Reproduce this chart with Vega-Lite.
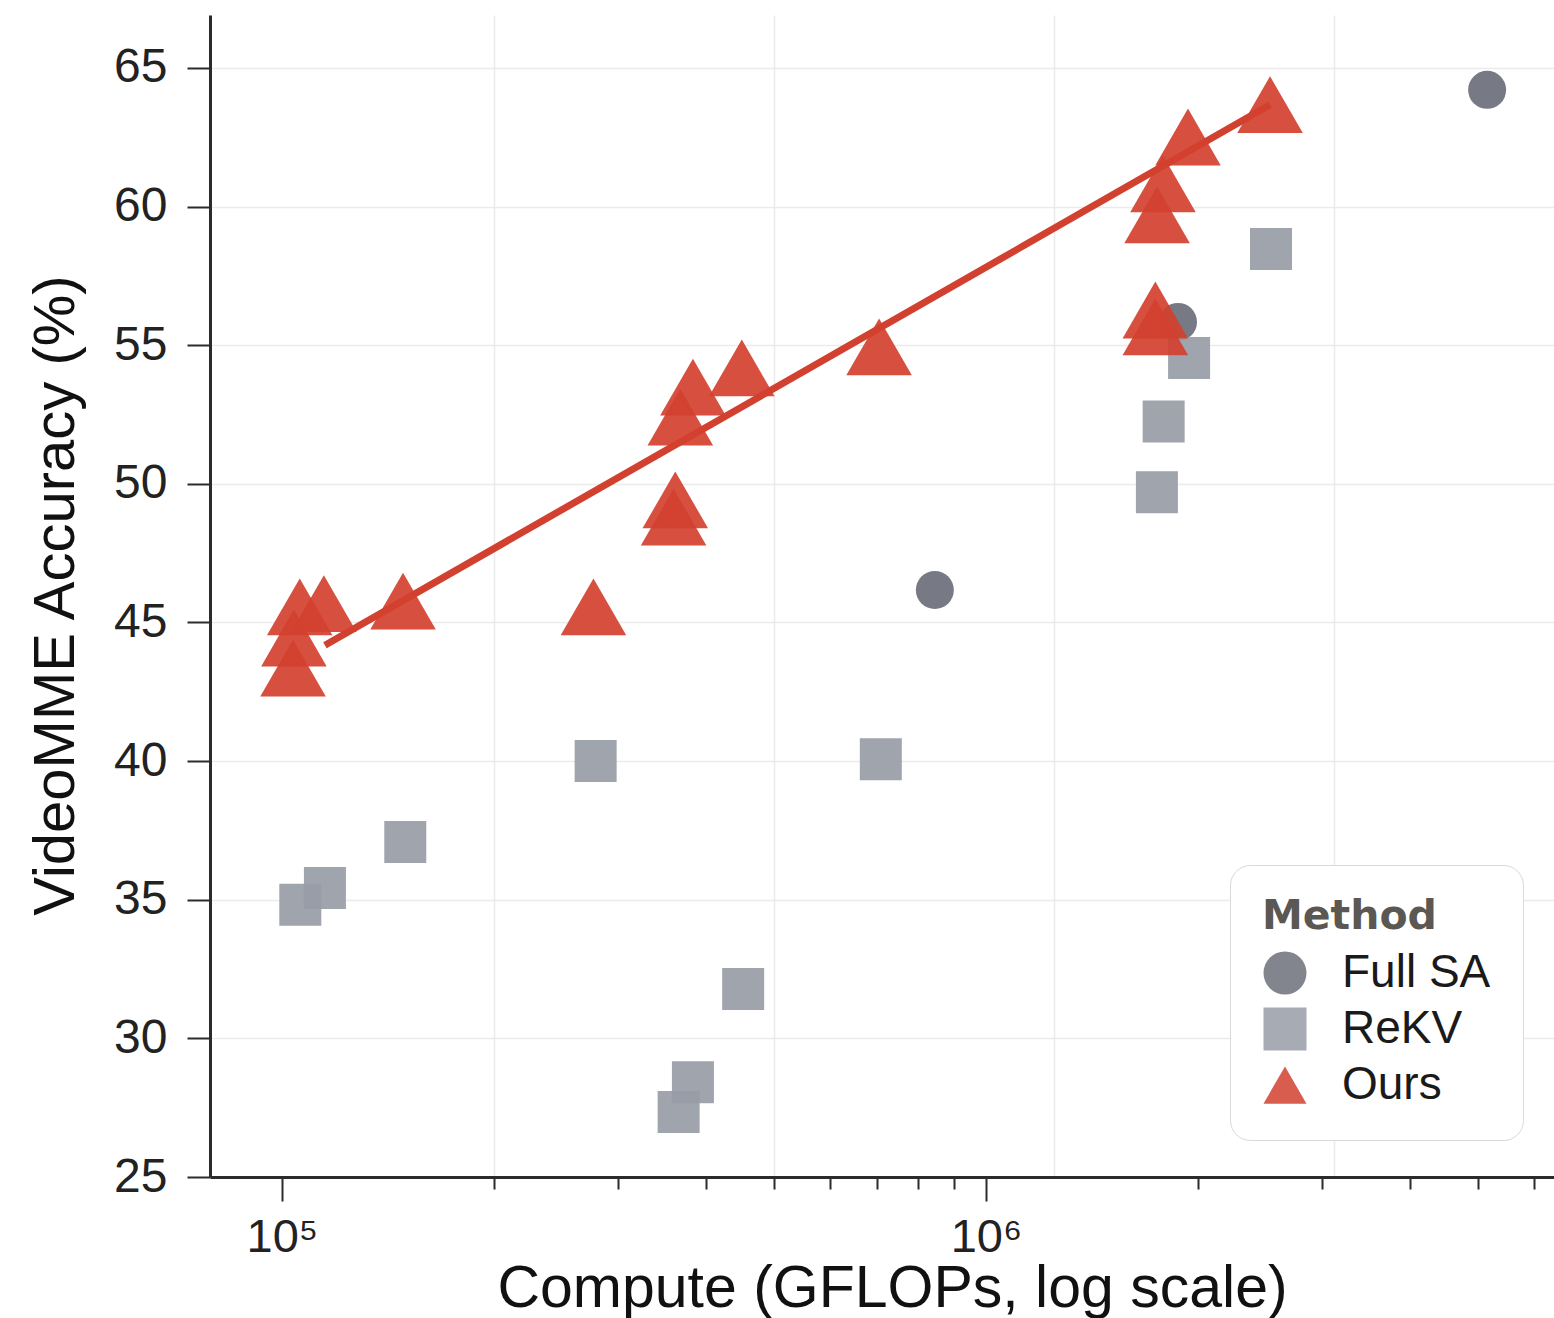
{
  "$schema": "https://vega.github.io/schema/vega-lite/v6.json",
  "width": 1344,
  "height": 1162,
  "autosize": {"type": "none"},
  "padding": {"left": 210, "top": 15, "right": 0, "bottom": 141},
  "background": "white",
  "config": {"view": {"stroke": null}, "font": "Liberation Sans"},
  "resolve": {"axis": {"x": "independent"}},
  "encoding": {
    "y": {
      "field": "accuracy",
      "type": "quantitative",
      "scale": {"domain": [25, 66.91], "nice": false, "zero": false},
      "axis": {
        "title": "VideoMME Accuracy (%)",
        "values": [25, 30, 35, 40, 45, 50, 55, 60, 65],
        "labelFontSize": 48,
        "labelColor": "#222222",
        "labelPadding": 20,
        "tickSize": 23,
        "tickWidth": 2,
        "tickColor": "#2b2b2b",
        "domainColor": "#2b2b2b",
        "domainWidth": 3,
        "grid": true,
        "gridColor": "#ebebeb",
        "gridWidth": 1.5,
        "titleFontSize": 58,
        "titleFontWeight": "normal",
        "titleColor": "#111111",
        "titleX": -137,
        "titleY": 580,
        "titleBaseline": "alphabetic",
        "titleAlign": "center",
        "titleAngle": -90
      }
    }
  },
  "layer": [
    {
      "data": {"values": [
        {"gflops": 115100, "accuracy": 44.18},
        {"gflops": 2532000, "accuracy": 63.67}
      ]},
      "mark": {"type": "line", "color": "#d2402f", "strokeWidth": 7, "strokeCap": "butt"},
      "encoding": {
        "x": {
          "field": "gflops",
          "type": "quantitative",
          "scale": {"type": "log", "domain": [79040, 6409000], "nice": false},
          "axis": {
            "orient": "bottom",
            "title": null,
            "values": [200000, 300000, 400000, 500000, 600000, 700000, 800000, 900000, 1250000, 2000000, 3000000, 3125000, 4000000, 5000000, 6000000],
            "labels": false,
            "domain": false,
            "tickSize": 12,
            "tickOpacity": {"condition": {"test": "datum.value == 1250000 || datum.value == 3125000", "value": 0}, "value": 1},
            "tickColor": "#2b2b2b",
            "tickWidth": 2,
            "grid": true,
            "gridOpacity": {"condition": {"test": "datum.value == 200000 || datum.value == 500000 || datum.value == 1250000 || datum.value == 3125000", "value": 1}, "value": 0},
            "gridColor": "#ebebeb",
            "gridWidth": 1.5
          }
        }
      }
    },
    {
      "data": {"values": [
        {"method": "Full SA", "gflops": 846000, "accuracy": 46.17},
        {"method": "Full SA", "gflops": 1874000, "accuracy": 55.84},
        {"method": "Full SA", "gflops": 5150000, "accuracy": 64.21},
        {"method": "ReKV", "gflops": 106200, "accuracy": 34.82},
        {"method": "ReKV", "gflops": 115100, "accuracy": 35.42},
        {"method": "ReKV", "gflops": 149700, "accuracy": 37.08},
        {"method": "ReKV", "gflops": 279000, "accuracy": 40.0},
        {"method": "ReKV", "gflops": 366000, "accuracy": 27.34},
        {"method": "ReKV", "gflops": 383500, "accuracy": 28.42},
        {"method": "ReKV", "gflops": 452000, "accuracy": 31.78},
        {"method": "ReKV", "gflops": 709000, "accuracy": 40.07},
        {"method": "ReKV", "gflops": 1749000, "accuracy": 49.7},
        {"method": "ReKV", "gflops": 1788000, "accuracy": 52.25},
        {"method": "ReKV", "gflops": 1943000, "accuracy": 54.54},
        {"method": "ReKV", "gflops": 2540000, "accuracy": 58.47},
        {"method": "Ours", "gflops": 103700, "accuracy": 43.35},
        {"method": "Ours", "gflops": 104000, "accuracy": 44.44},
        {"method": "Ours", "gflops": 106000, "accuracy": 45.56},
        {"method": "Ours", "gflops": 114700, "accuracy": 45.68},
        {"method": "Ours", "gflops": 148600, "accuracy": 45.77},
        {"method": "Ours", "gflops": 277000, "accuracy": 45.56},
        {"method": "Ours", "gflops": 360000, "accuracy": 48.8},
        {"method": "Ours", "gflops": 362000, "accuracy": 49.42},
        {"method": "Ours", "gflops": 368000, "accuracy": 52.41},
        {"method": "Ours", "gflops": 383500, "accuracy": 53.49},
        {"method": "Ours", "gflops": 450000, "accuracy": 54.18},
        {"method": "Ours", "gflops": 705000, "accuracy": 54.94},
        {"method": "Ours", "gflops": 1740000, "accuracy": 55.66},
        {"method": "Ours", "gflops": 1740000, "accuracy": 56.27},
        {"method": "Ours", "gflops": 1750000, "accuracy": 59.7},
        {"method": "Ours", "gflops": 1784000, "accuracy": 60.82},
        {"method": "Ours", "gflops": 1936000, "accuracy": 62.51},
        {"method": "Ours", "gflops": 2532000, "accuracy": 63.68}
      ]},
      "mark": {"type": "point", "filled": true, "opacity": 0.92, "strokeWidth": 0},
      "encoding": {
        "x": {
          "field": "gflops",
          "type": "quantitative",
          "scale": {"type": "log", "domain": [79040, 6409000], "nice": false},
          "axis": {
            "orient": "bottom",
            "title": "Compute (GFLOPs, log scale)",
            "values": [100000, 1000000],
            "labelExpr": "datum.value == 100000 ? '10⁵' : '10⁶'",
            "labelFontSize": 47,
            "labelColor": "#222222",
            "labelPadding": 13,
            "labelOverlap": false,
            "labelFlush": false,
            "tickSize": 24,
            "tickColor": "#2b2b2b",
            "tickWidth": 2,
            "grid": false,
            "domainColor": "#2b2b2b",
            "domainWidth": 3,
            "titleFontSize": 59,
            "titleFontWeight": "normal",
            "titleColor": "#111111",
            "titleX": 682,
            "titleY": 129,
            "titleBaseline": "alphabetic",
            "titleAlign": "center"
          }
        },
        "color": {
          "field": "method",
          "type": "nominal",
          "scale": {"domain": ["Full SA", "ReKV", "Ours"], "range": ["#6b6f7a", "#979ca6", "#d2402f"]},
          "legend": {
            "title": "Method",
            "orient": "none",
            "legendX": 1020,
            "legendY": 850,
            "padding": 32,
            "cornerRadius": 20,
            "strokeColor": "#d9d9d9",
            "fillColor": "white",
            "titleFont": "DejaVu Sans",
            "titleFontSize": 41,
            "titleFontWeight": "bold",
            "titleColor": "#5b5752",
            "titlePadding": 12,
            "labelFontSize": 46,
            "labelColor": "#1a1a1a",
            "labelOffset": 34,
            "symbolSize": 1850,
            "symbolStrokeWidth": 0,
            "symbolOpacity": 1,
            "rowPadding": 10
          }
        },
        "shape": {
          "field": "method",
          "type": "nominal",
          "scale": {"domain": ["Full SA", "ReKV", "Ours"], "range": ["circle", "square", "triangle-up"]}
        },
        "size": {
          "condition": [
            {"test": "datum.method == 'Ours'", "value": 4300},
            {"test": "datum.method == 'ReKV'", "value": 1764}
          ],
          "value": 1444
        }
      }
    }
  ]
}
